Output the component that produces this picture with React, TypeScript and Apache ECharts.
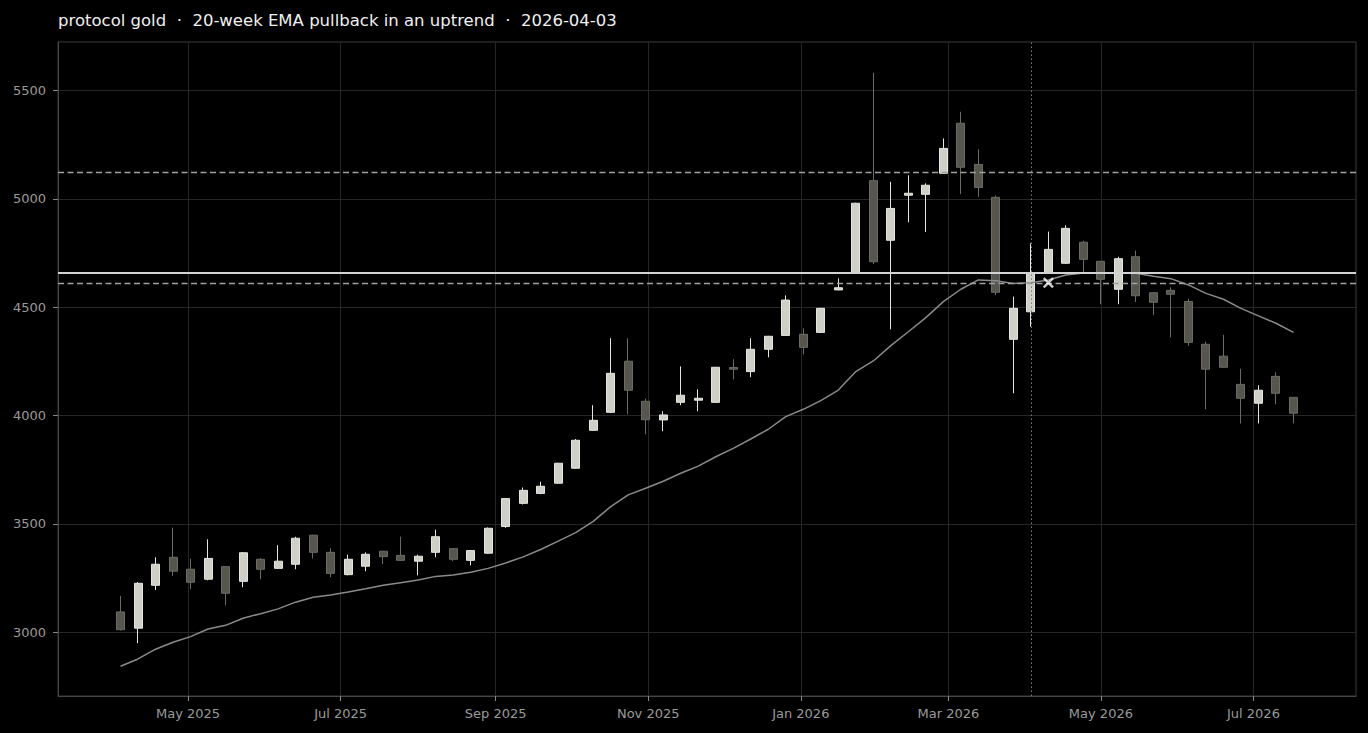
import React, { useEffect, useRef } from "react";
import * as echarts from "echarts";

const titleText = "protocol gold  ·  20-week EMA pullback in an uptrend  ·  2026-04-03";

const dates = [
  "2025-04-04", "2025-04-11", "2025-04-18", "2025-04-25", "2025-05-02", "2025-05-09", "2025-05-16", "2025-05-23",
  "2025-05-30", "2025-06-06", "2025-06-13", "2025-06-20", "2025-06-27", "2025-07-04", "2025-07-11", "2025-07-18",
  "2025-07-25", "2025-08-01", "2025-08-08", "2025-08-15", "2025-08-22", "2025-08-29", "2025-09-05", "2025-09-12",
  "2025-09-19", "2025-09-26", "2025-10-03", "2025-10-10", "2025-10-17", "2025-10-24", "2025-10-31", "2025-11-07",
  "2025-11-14", "2025-11-21", "2025-11-28", "2025-12-05", "2025-12-12", "2025-12-19", "2025-12-26", "2026-01-02",
  "2026-01-09", "2026-01-16", "2026-01-23", "2026-01-30", "2026-02-06", "2026-02-13", "2026-02-20", "2026-02-27",
  "2026-03-06", "2026-03-13", "2026-03-20", "2026-03-27", "2026-04-03", "2026-04-10", "2026-04-17", "2026-04-24",
  "2026-05-01", "2026-05-08", "2026-05-15", "2026-05-22", "2026-05-29", "2026-06-05", "2026-06-12", "2026-06-19",
  "2026-06-26", "2026-07-03", "2026-07-10", "2026-07-17",
];

const opens = [
  3094, 3019, 3217, 3346, 3291, 3245, 3303, 3235, 3337, 3295, 3314, 3448, 3369, 3266, 3305, 3374,
  3355, 3328, 3369, 3386, 3332, 3365, 3488, 3595, 3641, 3688, 3757, 3932, 4015, 4251, 4066, 3980,
  4061, 4071, 4061, 4222, 4203, 4306, 4370, 4375, 4384, 4580, 4661, 5084, 4809, 5017, 5021, 5118,
  5349, 5159, 5007, 4352, 4479, 4657, 4703, 4800, 4712, 4583, 4733, 4567, 4578, 4527, 4329, 4274,
  4144, 4057, 4181, 4084,
];
const closes = [
  3012, 3226, 3314, 3282, 3231, 3341, 3180, 3367, 3291, 3328, 3434, 3369, 3272, 3337, 3360, 3349,
  3332, 3351, 3441, 3337, 3377, 3480, 3617, 3655, 3674, 3780, 3886, 3978, 4195, 4117, 3981, 4003,
  4094, 4080, 4223, 4214, 4306, 4366, 4533, 4315, 4495, 4590, 4980, 4710, 4956, 5026, 5063, 5233,
  5146, 5053, 4569, 4495, 4657, 4767, 4864, 4721, 4629, 4724, 4553, 4523, 4560, 4338, 4214, 4223,
  4080, 4117, 4103, 4011,
];
const lows = [
  3008, 2950, 3195, 3260, 3200, 3240, 3125, 3208, 3245, 3293, 3291, 3341, 3254, 3263, 3282, 3314,
  3329, 3263, 3346, 3328, 3309, 3362, 3482, 3590, 3637, 3686, 3755, 3930, 4012, 4006, 3914, 3928,
  4048, 4020, 4059, 4167, 4177, 4269, 4368, 4283, 4382, 4578, 4658, 4699, 4398, 4892, 4847, 5115,
  5022, 5010, 4556, 4103, 4410, 4655, 4700, 4657, 4514, 4514, 4524, 4463, 4361, 4321, 4029, 4221,
  3964, 3964, 4052, 3964,
];
const highs = [
  3168, 3232, 3346, 3483, 3340, 3429, 3305, 3370, 3342, 3402, 3441, 3450, 3388, 3358, 3369, 3376,
  3441, 3358, 3474, 3388, 3380, 3484, 3620, 3668, 3695, 3782, 3892, 4048, 4357, 4357, 4078, 4020,
  4227, 4121, 4225, 4260, 4357, 4368, 4555, 4403, 4497, 4633, 4982, 5582, 5079, 5109, 5072, 5279,
  5402, 5229, 5016, 4549, 4795, 4849, 4878, 4807, 4714, 4733, 4761, 4569, 4592, 4539, 4341, 4373,
  4216, 4140, 4200, 4086,
];
const ema20 = [
  2843, 2877, 2922, 2954, 2980, 3015, 3032, 3065, 3086, 3108, 3139, 3162, 3172, 3186, 3201, 3217,
  3229, 3241, 3258, 3264, 3277, 3295, 3320, 3348, 3382, 3421, 3460, 3512, 3580, 3634, 3665, 3697,
  3734, 3767, 3810, 3849, 3892, 3937, 3995, 4029, 4069, 4118, 4203, 4252, 4323, 4387, 4452, 4526,
  4583, 4626, 4622, 4610, 4613, 4626, 4649, 4658, 4659, 4659, 4657, 4643, 4632, 4603, 4564, 4537,
  4495, 4460, 4426, 4384,
];

const tickDates = ["2025-05-01", "2025-07-01", "2025-09-01", "2025-11-01", "2026-01-01", "2026-03-01", "2026-05-01", "2026-07-01"];
const tickLabels = ["May 2025", "Jul 2025", "Sep 2025", "Nov 2025", "Jan 2026", "Mar 2026", "May 2026", "Jul 2026"];
const yTicks = [3000, 3500, 4000, 4500, 5000, 5500];

const xRange = ["2025-03-10", "2026-08-11"];
const yRange = [2706, 5724];

const upperLevel = 5121;
const pivotLevel = 4659;
const lowerLevel = 4613;
const signalDate = "2026-04-03";
const entryDate = "2026-04-10";
const entryPrice = 4613;

const toTime = (s: string) => {
  const [y, m, d] = s.split("-").map(Number);
  return Date.UTC(y, m - 1, d);
};

const FONT = "DejaVu Sans";

export default function App() {
  const ref = useRef<HTMLDivElement>(null);
  useEffect(() => {
    if (!ref.current) return;
    const chart = echarts.init(ref.current, undefined, { renderer: "svg" });
    const tickTimes = tickDates.map(toTime);
    const candles = dates.map((d, i) => [toTime(d), opens[i], closes[i], lows[i], highs[i]]);
    const emaData = dates.map((d, i) => [toTime(d), ema20[i]]);
    chart.setOption({
      animation: false,
      backgroundColor: "#000000",
      title: {
        text: titleText,
        left: 53,
        top: 7,
        textStyle: { color: "#f0f0f0", fontFamily: FONT, fontSize: 16.5, fontWeight: "normal" },
      },
      grid: {
        left: 58,
        right: 12,
        top: 42,
        bottom: 37,
        show: true,
        borderColor: "#3d3d3d",
        borderWidth: 1,
        backgroundColor: "transparent",
        outerBoundsMode: "none",
      },
      xAxis: {
        type: "value",
        min: toTime(xRange[0]),
        max: toTime(xRange[1]),
        axisLine: { show: true, lineStyle: { color: "#444444" } },
        axisTick: { show: true, length: 5, lineStyle: { color: "#888888" }, customValues: tickTimes },
        axisLabel: {
          customValues: tickTimes,
          color: "#9a9a9a",
          fontFamily: FONT,
          fontSize: 13,
          margin: 11,
          formatter: (v: number) => {
            const i = tickTimes.indexOf(v);
            return i >= 0 ? tickLabels[i] : "";
          },
        },
        splitLine: { show: true, lineStyle: { color: "#262626", width: 1 } },
      },
      yAxis: {
        type: "value",
        min: yRange[0],
        max: yRange[1],
        axisLine: { show: true, lineStyle: { color: "#444444" } },
        axisTick: { show: true, length: 5, lineStyle: { color: "#888888" }, customValues: yTicks },
        axisLabel: {
          customValues: yTicks,
          color: "#9a9a9a",
          fontFamily: FONT,
          fontSize: 13,
          margin: 12,
          formatter: (v: number) => String(v),
        },
        splitLine: { show: true, lineStyle: { color: "#262626", width: 1 } },
      },
      series: [
        {
          type: "candlestick",
          data: candles,
          encode: { x: 0, y: [1, 2, 3, 4] },
          barWidth: 8.5,
          itemStyle: {
            color: "#cfcfc8",
            color0: "#56564f",
            borderColor: "#e6e6e0",
            borderColor0: "#6c6c65",
            borderWidth: 1,
          },
          z: 2,
        },
        {
          type: "line",
          data: emaData,
          showSymbol: false,
          symbol: "none",
          lineStyle: { color: "#8a8a8a", width: 1.5 },
          z: 3,
          markLine: {
            silent: true,
            symbol: "none",
            label: { show: false },
            data: [
              { yAxis: pivotLevel, lineStyle: { color: "#d2d2d2", width: 2, type: "solid" } },
              { yAxis: upperLevel, lineStyle: { color: "#a0a0a0", width: 1.3, type: [6, 3.5] } },
              { yAxis: lowerLevel, lineStyle: { color: "#a0a0a0", width: 1.3, type: [6, 3.5] } },
              { xAxis: toTime(signalDate), lineStyle: { color: "#7a7a7a", width: 1, type: [1.5, 2.5] } },
            ],
          },
        },
        {
          type: "scatter",
          data: [[toTime(entryDate), entryPrice]],
          symbol: "path://M1.5,0 L5,3.5 L8.5,0 L10,1.5 L6.5,5 L10,8.5 L8.5,10 L5,6.5 L1.5,10 L0,8.5 L3.5,5 L0,1.5 Z",
          symbolSize: 11,
          itemStyle: { color: "#ffffff" },
          z: 5,
        },
      ],
    });
    return () => chart.dispose();
  }, []);
  return (
    <div
      ref={ref}
      style={{ position: "fixed", left: 0, top: 0, width: 1368, height: 733 }}
    />
  );
}
